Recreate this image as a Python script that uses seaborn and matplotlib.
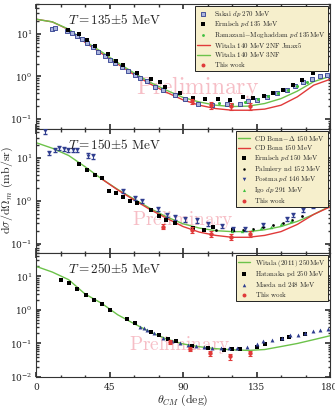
import numpy as np
import pandas as pd
import matplotlib
matplotlib.use("Agg")
import matplotlib.pyplot as plt
import seaborn as sns
from matplotlib.ticker import FixedLocator, LogLocator, NullFormatter, MultipleLocator

# ---------------- data ----------------
theory_x = [0, 10, 20, 30, 40, 50, 60, 70, 80, 90, 100, 110, 120, 130, 140, 150, 160, 170, 180]

# Panel 1: T = 135 MeV
p1_2nf = [22, 19, 12.5, 6.3, 3.5, 1.95, 1.1, 0.66, 0.42, 0.28, 0.21, 0.175, 0.16, 0.16, 0.17, 0.21, 0.33, 0.62, 0.85]
p1_3nf = [22, 19, 12.8, 6.7, 3.8, 2.1, 1.2, 0.72, 0.47, 0.32, 0.25, 0.21, 0.195, 0.2, 0.23, 0.3, 0.45, 0.75, 1.0]
sakai_x = [9.6, 11.6, 18.8, 21.8, 24.9, 28.0, 31.4, 35.1, 38.1, 42.2, 45.3, 48.4, 52.5, 56.5, 60.6, 63.7, 67.8,
           72.9, 77.9, 85.1, 91.2, 99.4, 107.6, 116.7, 124.9, 130.0, 135.1, 141.2, 147.4, 153.5, 158.6, 163.6,
           168.8, 173.9, 178.0]
sakai_y = [12.9, 13.3, 11.8, 10.4, 9.0, 7.5, 6.0, 4.9, 3.8, 3.0, 2.4, 2.05, 1.7, 1.35, 1.08, 0.91, 0.76,
           0.56, 0.48, 0.37, 0.30, 0.23, 0.21, 0.22, 0.23, 0.26, 0.28, 0.33, 0.40, 0.48, 0.60, 0.73,
           0.87, 1.03, 1.08]
ermisch135_x = [19.8, 26.5, 31.0, 36.1, 44.3, 49.0, 53.5, 61.6, 70.2, 75.9, 79.0, 88.2, 95.9, 103.5, 111.6,
                118.8, 126.9, 133.0, 139.8, 145.3, 151.4, 157.5, 162.7, 169.8]
ermisch135_y = [12.0, 9.8, 7.2, 5.2, 3.4, 2.24, 1.87, 1.23, 0.87, 0.72, 0.56, 0.40, 0.31, 0.30, 0.29,
                0.28, 0.32, 0.31, 0.34, 0.40, 0.48, 0.63, 0.83, 1.19]
ramazani_x = [112, 120, 128, 136, 142, 148, 154, 160, 166]
ramazani_y = [0.24, 0.23, 0.25, 0.29, 0.34, 0.41, 0.49, 0.60, 0.75]
tw1_x = [95.3, 107.1, 119.4, 131.0]
tw1_y = [0.26, 0.21, 0.20, 0.20]
tw1_e = [0.04, 0.035, 0.035, 0.04]

# Panel 2: T = 150 MeV
p2_bonn_d = [23, 17, 11.5, 6.3, 3.3, 1.85, 1.1, 0.66, 0.42, 0.29, 0.23, 0.2, 0.19, 0.19, 0.21, 0.25, 0.33, 0.48, 0.75]
bonn_x = [40, 50, 60, 70, 80, 90, 100, 110, 120, 130, 140, 150, 160, 170, 180]
p2_bonn = [3.3, 1.8, 1.05, 0.62, 0.39, 0.25, 0.185, 0.155, 0.14, 0.14, 0.155, 0.19, 0.28, 0.48, 0.72]
ermisch150_x = [26.5, 31.4, 36.1, 40.2, 44.9, 49.0, 53.5, 57.6, 62.0, 70.4, 75.5, 79.4, 85.1, 96.3, 102.8, 108.6, 120.8]
ermisch150_y = [7.2, 5.3, 4.1, 3.4, 1.7, 1.56, 1.26, 1.0, 0.88, 0.62, 0.45, 0.36, 0.31, 0.23, 0.21, 0.24, 0.21]
palmiery_x = [103, 110, 120, 127, 133, 139, 145, 151, 157, 163]
palmiery_y = [0.22, 0.21, 0.2, 0.21, 0.22, 0.24, 0.27, 0.30, 0.36, 0.45]
postma_x = [5.5, 8.2, 11.6, 14.3, 17.1, 19.8, 22.4, 24.9, 32.0, 35.1, 53.5, 60.6, 64.7, 74.9, 80.0, 85.1, 91.2,
            98.4, 105.5, 113.6, 120.8, 127.9, 139.2, 153.5, 157.5, 163.6, 169.8]
postma_y = [42, 13.1, 15.7, 17.2, 16.3, 15.7, 15.7, 15.7, 11.5, 10.9, 1.71, 1.16, 1.0, 0.64, 0.47, 0.41, 0.37,
            0.35, 0.29, 0.26, 0.22, 0.22, 0.27, 0.38, 0.47, 0.61, 0.76]
igo_x = [120, 126, 132, 138, 144, 150, 156]
igo_y = [0.2, 0.2, 0.21, 0.23, 0.25, 0.29, 0.33]
tw2_x = [77.5, 95.3, 107.1, 119.4, 131.0]
tw2_y = [0.25, 0.21, 0.17, 0.146, 0.17]
tw2_e = [0.035, 0.03, 0.025, 0.022, 0.03]

# Panel 3: T = 250 MeV
p3_witala = [20, 13.5, 8.0, 3.0, 1.6, 0.72, 0.39, 0.22, 0.135, 0.097, 0.08, 0.07, 0.065, 0.062, 0.066, 0.081, 0.1, 0.13, 0.17]
hatanaka_x = [15.3, 20.4, 25.3, 30.4, 35.5, 40.4, 45.3, 55.5, 60.4, 70.2, 75.5, 80.6, 85.5, 95.3, 105.5, 115.1,
              119.8, 124.9, 135.1, 140.2, 150.4, 155.1, 164.7]
hatanaka_y = [7.9, 6.3, 4.1, 2.7, 2.0, 1.46, 1.0, 0.55, 0.41, 0.22, 0.175, 0.14, 0.118, 0.087, 0.074, 0.066,
              0.069, 0.069, 0.078, 0.098, 0.14, 0.155, 0.195]
maeda_x = [63.5, 66, 68, 72, 78, 83, 88, 93, 98, 103, 108, 113, 118, 123, 129, 135.1, 139, 144.2, 150.4, 155.5,
           160.6, 164.7, 169.8, 173.9, 178.9]
maeda_y = [0.31, 0.28, 0.26, 0.2, 0.15, 0.12, 0.1, 0.09, 0.085, 0.078, 0.074, 0.072, 0.072, 0.075, 0.08, 0.098,
           0.115, 0.125, 0.15, 0.175, 0.18, 0.21, 0.23, 0.25, 0.275]
tw3_x = [82.0, 94.3, 106.5, 118.8, 131.0]
tw3_y = [0.11, 0.069, 0.051, 0.041, 0.051]
tw3_e = [0.015, 0.01, 0.008, 0.008, 0.01]

x_ticks = [0, 45, 90, 135, 180]

# ---------------- style ----------------
sns.set_theme(style="ticks")
plt.rcParams.update({
    "font.family": ["DejaVu Serif"],
    "mathtext.fontset": "cm",
    "axes.linewidth": 0.8,
    "axes.edgecolor": "#333333",
    "xtick.direction": "in",
    "ytick.direction": "in",
    "xtick.top": True,
    "ytick.right": True,
    "xtick.major.size": 3.5,
    "ytick.major.size": 3.5,
    "xtick.minor.size": 1.8,
    "ytick.minor.size": 1.8,
    "xtick.labelsize": 6.5,
    "ytick.labelsize": 6.5,
    "xtick.major.pad": 4,
    "ytick.major.pad": 2.5,
})

RED = "#e03a3a"
GREEN = "#6cc24a"
BLUE = "#2f3d8f"
LEG_BG = "#f6efcc"
PINK = "#f08a98"

fig = plt.figure(figsize=(3.35, 4.08), dpi=100)
L, W = 36 / 335, 294 / 335
ax1 = fig.add_axes([L, 1 - 129 / 408, W, 125 / 408])
ax2 = fig.add_axes([L, 1 - 253 / 408, W, 124 / 408])
ax3 = fig.add_axes([L, 1 - 377 / 408, W, 124 / 408])


def m(s):
    return "$" + s + "$"


def this_work(ax, x, y, e):
    ax.errorbar(x, y, yerr=e, fmt="none", ecolor=RED, elinewidth=0.9, capsize=1.5, capthick=0.8, zorder=5)
    sns.scatterplot(x=x, y=y, ax=ax, color=RED, marker="o", s=10, linewidth=0, zorder=6,
                    label=m(r"\mathrm{This\ work}"))


# ---- Panel 1 ----
sns.scatterplot(x=sakai_x, y=sakai_y, ax=ax1, marker="s", s=8, facecolor="#aab4dd", edgecolor=BLUE,
                linewidth=0.6, zorder=3, label=m(r"\mathrm{Sakai}\ dp\ \mathrm{270\ MeV}"))
sns.scatterplot(x=ermisch135_x, y=ermisch135_y, ax=ax1, marker="s", s=10, color="black", linewidth=0,
                zorder=4, label=m(r"\mathrm{Ermisch}\ pd\ \mathrm{135\ MeV}"))
sns.scatterplot(x=ramazani_x, y=ramazani_y, ax=ax1, marker="o", s=5, color="#3fbf3f", linewidth=0,
                zorder=4, label=m(r"\mathrm{Ramazani\!-\!Moghaddam}\ pd\ \mathrm{135MeV}"))
sns.lineplot(x=theory_x, y=p1_2nf, ax=ax1, color=RED, linewidth=1.0, zorder=2,
             label=m(r"\mathrm{Witala\ 140\ MeV\ 2NF\ Jmax5}"))
sns.lineplot(x=theory_x, y=p1_3nf, ax=ax1, color=GREEN, linewidth=1.0, zorder=2,
             label=m(r"\mathrm{Witala\ 140\ MeV\ 3NF}"))
this_work(ax1, tw1_x, tw1_y, tw1_e)

# ---- Panel 2 ----
sns.lineplot(x=theory_x, y=p2_bonn_d, ax=ax2, color=GREEN, linewidth=1.0, zorder=2,
             label=m(r"\mathrm{CD\ Bonn\!-\!\Delta\ 150\ MeV}"))
sns.lineplot(x=bonn_x, y=p2_bonn, ax=ax2, color=RED, linewidth=1.0, zorder=2,
             label=m(r"\mathrm{CD\ Bonn\ 150\ MeV}"))
sns.scatterplot(x=ermisch150_x, y=ermisch150_y, ax=ax2, marker="s", s=10, color="black", linewidth=0,
                zorder=4, label=m(r"\mathrm{Ermisch}\ pd\ \mathrm{150\ MeV}"))
sns.scatterplot(x=palmiery_x, y=palmiery_y, ax=ax2, marker="o", s=4, color="black", linewidth=0,
                zorder=4, label=m(r"\mathrm{Palmiery\ nd\ 152\ MeV}"))
pe = [0.12 * v for v in postma_y]
ax2.errorbar(postma_x, postma_y, yerr=pe, fmt="none", ecolor=BLUE, elinewidth=0.7, capsize=1.2, zorder=3)
sns.scatterplot(x=postma_x, y=postma_y, ax=ax2, marker="v", s=8, color=BLUE, linewidth=0,
                zorder=4, label=m(r"\mathrm{Postma}\ pd\ \mathrm{146\ MeV}"))
sns.scatterplot(x=igo_x, y=igo_y, ax=ax2, marker="^", s=6, color="#3fbf3f", linewidth=0,
                zorder=4, label=m(r"\mathrm{Igo}\ dp\ \mathrm{291\ MeV}"))
this_work(ax2, tw2_x, tw2_y, tw2_e)

# ---- Panel 3 ----
sns.lineplot(x=theory_x, y=p3_witala, ax=ax3, color=GREEN, linewidth=1.0, zorder=2,
             label=m(r"\mathrm{Witala\ (2011)\ 250MeV}"))
sns.scatterplot(x=hatanaka_x, y=hatanaka_y, ax=ax3, marker="s", s=10, color="black", linewidth=0,
                zorder=4, label=m(r"\mathrm{Hatanaka\ pd\ 250\ MeV}"))
sns.scatterplot(x=maeda_x, y=maeda_y, ax=ax3, marker="^", s=8, color=BLUE, linewidth=0,
                zorder=4, label=m(r"\mathrm{Maeda\ nd\ 248\ MeV}"))
this_work(ax3, tw3_x, tw3_y, tw3_e)

# ---- axes formatting ----
labels_T = [r"T = 135{\pm}5\ \mathrm{MeV}", r"T = 150{\pm}5\ \mathrm{MeV}", r"T = 250{\pm}5\ \mathrm{MeV}"]
ylims = [(0.058, 50), (0.06, 48), (0.01, 50)]
wm = [(0.55, 0.33, 17), (0.5, 0.27, 14), (0.49, 0.26, 14)]
for i, ax in enumerate([ax1, ax2, ax3]):
    ax.set_yscale("log")
    ax.set_xlim(0, 180)
    ax.set_ylim(*ylims[i])
    ax.xaxis.set_major_locator(FixedLocator(x_ticks))
    ax.xaxis.set_minor_locator(MultipleLocator(15))
    ax.yaxis.set_major_locator(LogLocator(base=10, numticks=10))
    ax.yaxis.set_minor_locator(LogLocator(base=10, subs=np.arange(2, 10), numticks=50))
    ax.yaxis.set_minor_formatter(NullFormatter())
    ax.tick_params(which="both", colors="#333333", labelcolor="#222222")
    ax.set_xlabel("")
    ax.set_ylabel("")
    if i < 2:
        ax.tick_params(axis="x", labelbottom=False)
    ax.text(0.11, 0.87, m(labels_T[i]), transform=ax.transAxes, fontsize=9.5, color="#222222",
            va="center", ha="left")
    ax.text(wm[i][0], wm[i][1], m(r"\mathrm{Preliminary}"), transform=ax.transAxes,
            fontsize=wm[i][2], color=PINK, alpha=0.55, ha="center", va="center", zorder=1)
    leg = ax.legend(loc="upper right", fontsize=5.0, frameon=True, fancybox=False, borderpad=0.3,
                    labelspacing=0.1, handlelength=1.8, handletextpad=0.6, borderaxespad=0.35,
                    markerscale=0.9)
    leg.get_frame().set_facecolor(LEG_BG)
    leg.get_frame().set_edgecolor("#222222")
    leg.get_frame().set_linewidth(0.7)
    leg.get_frame().set_alpha(1.0)
    leg.set_zorder(10)

ax3.set_xlabel(m(r"\theta_{CM}\ \mathrm{(deg)}"), fontsize=8.5, color="#222222", labelpad=1)
fig.text(0.022, 0.535, m(r"\mathrm{d}\sigma/\mathrm{d}\Omega_{m}\ \mathrm{(mb/sr)}"), rotation=90,
         fontsize=8.5, color="#222222", ha="center", va="center")

fig.savefig("out.png", dpi=100)
